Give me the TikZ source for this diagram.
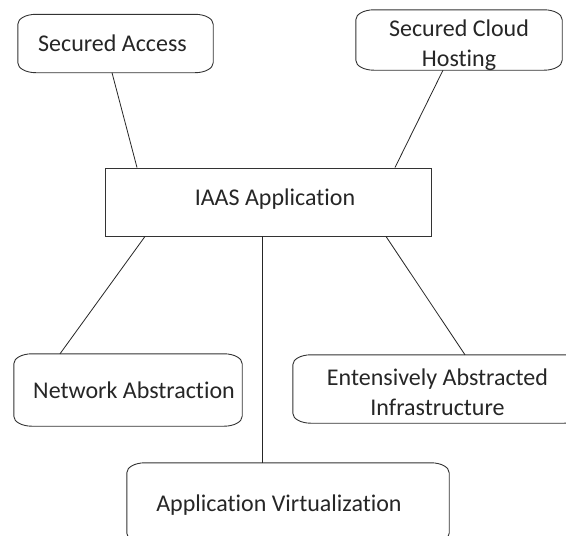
\documentclass[tikz,border=0pt]{standalone}
\usepackage{fontspec}
\setmainfont{Carlito}[Ligatures={NoCommon}]
\newcommand{\lowered}[2]{\raisebox{-#1}[\height][\depth]{#2}}
\begin{document}
\begin{tikzpicture}[x=1pt,y=-1pt,
  every node/.style={font=\fontsize{24}{30}\selectfont, text=black!85},
  scroll/.style={inner sep=0pt, align=center},
  plainbox/.style={draw=black!80, line width=0.9pt, inner sep=0pt, align=center},
  link/.style={draw=black!85, line width=0.8pt}]
\useasboundingbox (0,0) rectangle (566,536);
\clip (0,0) rectangle (566,536);
\fill[white] (0,0) rectangle (566,536);

% boxes
\node[scroll, minimum width=195pt, minimum height=58pt] (sa)   at (115.5,43.5) {\hspace*{-6pt}Secured Access};
\node[scroll, minimum width=206pt, minimum height=60pt] (sch)  at (459,40) {\lowered{5pt}{Secured Cloud}\\\lowered{5pt}{Hosting}};
\node[plainbox, minimum width=326pt, minimum height=68pt] (iaas) at (268,202) {\lowered{-3pt}{\hspace*{14pt}IAAS Application}};
\node[scroll, minimum width=228pt, minimum height=72pt] (na)   at (128,390) {\hspace*{12pt}Network Abstraction};
\node[scroll, minimum width=289pt, minimum height=68pt] (eai)  at (437.5,389) {\lowered{3pt}{Entensively Abstracted}\\\lowered{3pt}{Infrastructure}};
\node[scroll, minimum width=322pt, minimum height=80pt] (av)   at (288,503) {\lowered{2pt}{Application Virtualization\hspace*{18pt}}};

% scroll-like outlines with elliptic corners
\foreach \n in {sa,sch,na,eai,av}{
  \draw[black!80, line width=0.9pt]
    ([yshift=-10pt]\n.north west) -- ([yshift=10pt]\n.south west)
    arc[start angle=180, end angle=270, x radius=18pt, y radius=10pt]
    -- ([xshift=-18pt]\n.south east)
    arc[start angle=270, end angle=360, x radius=18pt, y radius=10pt]
    -- ([yshift=-10pt]\n.north east)
    arc[start angle=0, end angle=90, x radius=18pt, y radius=10pt]
    -- ([xshift=18pt]\n.north west)
    arc[start angle=90, end angle=180, x radius=18pt, y radius=10pt]
    -- cycle;
}

% connectors
\draw[link] ([xshift=-3.5pt]sa.south) -- ([xshift=-131pt]iaas.north);
\draw[link] ([xshift=-16pt]sch.south) -- ([xshift=127pt]iaas.north);
\draw[link] ([xshift=-123pt]iaas.south) -- ([xshift=-68pt]na.north);
\draw[link] ([xshift=118pt]iaas.south) -- ([xshift=27.5pt]eai.north);
\draw[link] ([xshift=-6pt]iaas.south) -- ([xshift=-26pt]av.north);
\end{tikzpicture}
\end{document}
